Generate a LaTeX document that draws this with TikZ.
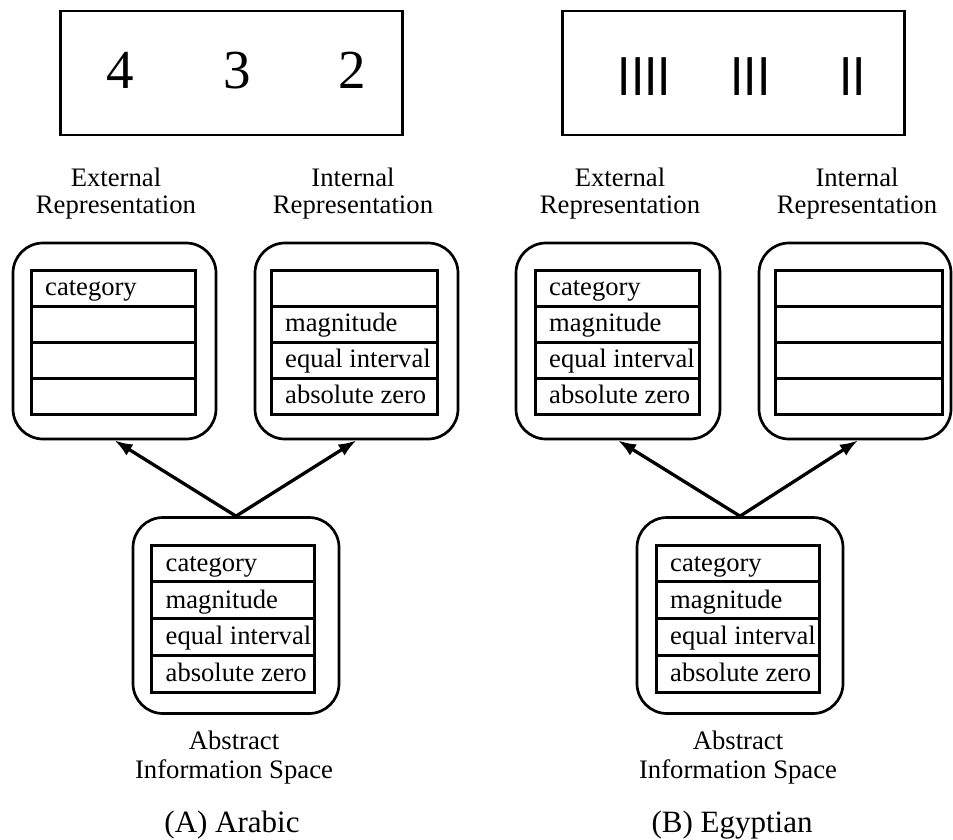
\documentclass[tikz,border=0pt]{standalone}
\usepackage{fontspec}
\setmainfont{Liberation Serif}
\newfontfamily\tallyfont{Liberation Sans}
\usetikzlibrary{arrows.meta}

\newcommand\celltext[2]{%
  \if\relax\detokenize{#2}\relax\else
    \node[cell, anchor=base west] at ([xshift=14pt,yshift=10.5pt]#1.south west) {#2};%
  \fi}

\newcommand\mytable[8]{%
  \node[row, minimum width=#3, minimum height=#4, anchor=north west] (#1r1) at (#2) {};
  \node[row, minimum width=#3, minimum height=#4, anchor=north] (#1r2) at (#1r1.south) {};
  \node[row, minimum width=#3, minimum height=#4, anchor=north] (#1r3) at (#1r2.south) {};
  \node[row, minimum width=#3, minimum height=#4, anchor=north] (#1r4) at (#1r3.south) {};
  \celltext{#1r1}{#5}
  \celltext{#1r2}{#6}
  \celltext{#1r3}{#7}
  \celltext{#1r4}{#8}
}

\begin{document}
\begin{tikzpicture}[x=1pt,y=-1pt,
  frame/.style={draw, line width=2.7pt, minimum width=342pt, minimum height=124pt, inner sep=0pt},
  rbox/.style={draw, line width=2.7pt, rounded corners=30pt, minimum height=196pt, inner sep=0pt},
  row/.style={draw, line width=3pt, inner sep=0pt, outer sep=0pt},
  cell/.style={inner sep=0pt, font=\fontsize{26.6}{28}\selectfont},
  lbl/.style={inner sep=0pt, font=\fontsize{26.7}{28}\selectfont},
  digit/.style={inner sep=0pt, font=\fontsize{55}{55}\selectfont},
  tally/.style={inner sep=0pt, font=\fontsize{55}{55}\tallyfont},
  capt/.style={inner sep=0pt, font=\fontsize{31}{32}\selectfont},
  arr/.style={line width=3.3pt, -{Latex[length=18pt,width=13pt]}}
]
\useasboundingbox (0,0) rectangle (953,840);

% ---------- (A) Arabic ----------
\node[frame] (aFrame) at (231.5,73) {};
\node[digit, anchor=base] (aD4) at (120,89) {4};
\node[digit, anchor=base] (aD3) at (237.5,89) {3};
\node[digit, anchor=base] (aD2) at (352.5,89) {2};

\node[lbl, anchor=base] (aExtL1) at (116,186.7) {External};
\node[lbl, anchor=base] (aExtL2) at (116,213.3) {Representation};
\node[lbl, anchor=base] (aIntL1) at (353,186.7) {Internal};
\node[lbl, anchor=base] (aIntL2) at (353,213.3) {Representation};

\node[rbox, minimum width=203pt] (aExt) at (114.5,341) {};
\node[rbox, minimum width=203pt] (aInt) at (356.5,341) {};
\node[rbox, minimum width=206pt] (aAbs) at (236,615.5) {};

\mytable{aE}{31,270}{164pt}{36pt}{category}{}{}{}
\mytable{aI}{271,270}{166pt}{36pt}{}{magnitude}{equal interval}{absolute zero}
\mytable{aA}{151.5,545}{163pt}{36.75pt}{category}{magnitude}{equal interval}{absolute zero}

\draw[arr] (aAbs.north) -- (aExt.south);
\draw[arr] (aAbs.north) -- (aInt.south);

\node[lbl, anchor=base] (aAbsL1) at (234,749) {Abstract};
\node[lbl, anchor=base] (aAbsL2) at (234,778) {Information Space};
\node[capt, anchor=base] (aCap) at (232,832) {(A) Arabic};

% ---------- (B) Egyptian ----------
\node[frame] (bFrame) at (733.5,73) {};
\node[tally, anchor=base] (bT4) at (644.5,96) {\scalebox{0.87}[1]{IIII}};
\node[tally, anchor=base] (bT3) at (750.5,96) {\scalebox{0.87}[1]{III}};
\node[tally, anchor=base] (bT2) at (852.7,96) {\scalebox{0.87}[1]{II}};

\node[lbl, anchor=base] (bExtL1) at (620,186.7) {External};
\node[lbl, anchor=base] (bExtL2) at (620,213.3) {Representation};
\node[lbl, anchor=base] (bIntL1) at (857,186.7) {Internal};
\node[lbl, anchor=base] (bIntL2) at (857,213.3) {Representation};

\node[rbox, minimum width=204pt] (bExt) at (618,341) {};
\node[rbox, minimum width=192pt] (bInt) at (855,341) {};
\node[rbox, minimum width=206pt] (bAbs) at (740,615.5) {};

\mytable{bE}{535,270}{164pt}{36pt}{category}{magnitude}{equal interval}{absolute zero}
\mytable{bI}{775,270}{167pt}{36pt}{}{}{}{}
\mytable{bA}{656,545}{163pt}{36.75pt}{category}{magnitude}{equal interval}{absolute zero}

\draw[arr] (bAbs.north) -- (bExt.south);
\draw[arr] (bAbs.north) -- ([xshift=3pt]bInt.south);

\node[lbl, anchor=base] (bAbsL1) at (738,749) {Abstract};
\node[lbl, anchor=base] (bAbsL2) at (738,778) {Information Space};
\node[capt, anchor=base] (bCap) at (732,832) {(B) Egyptian};
\end{tikzpicture}
\end{document}
